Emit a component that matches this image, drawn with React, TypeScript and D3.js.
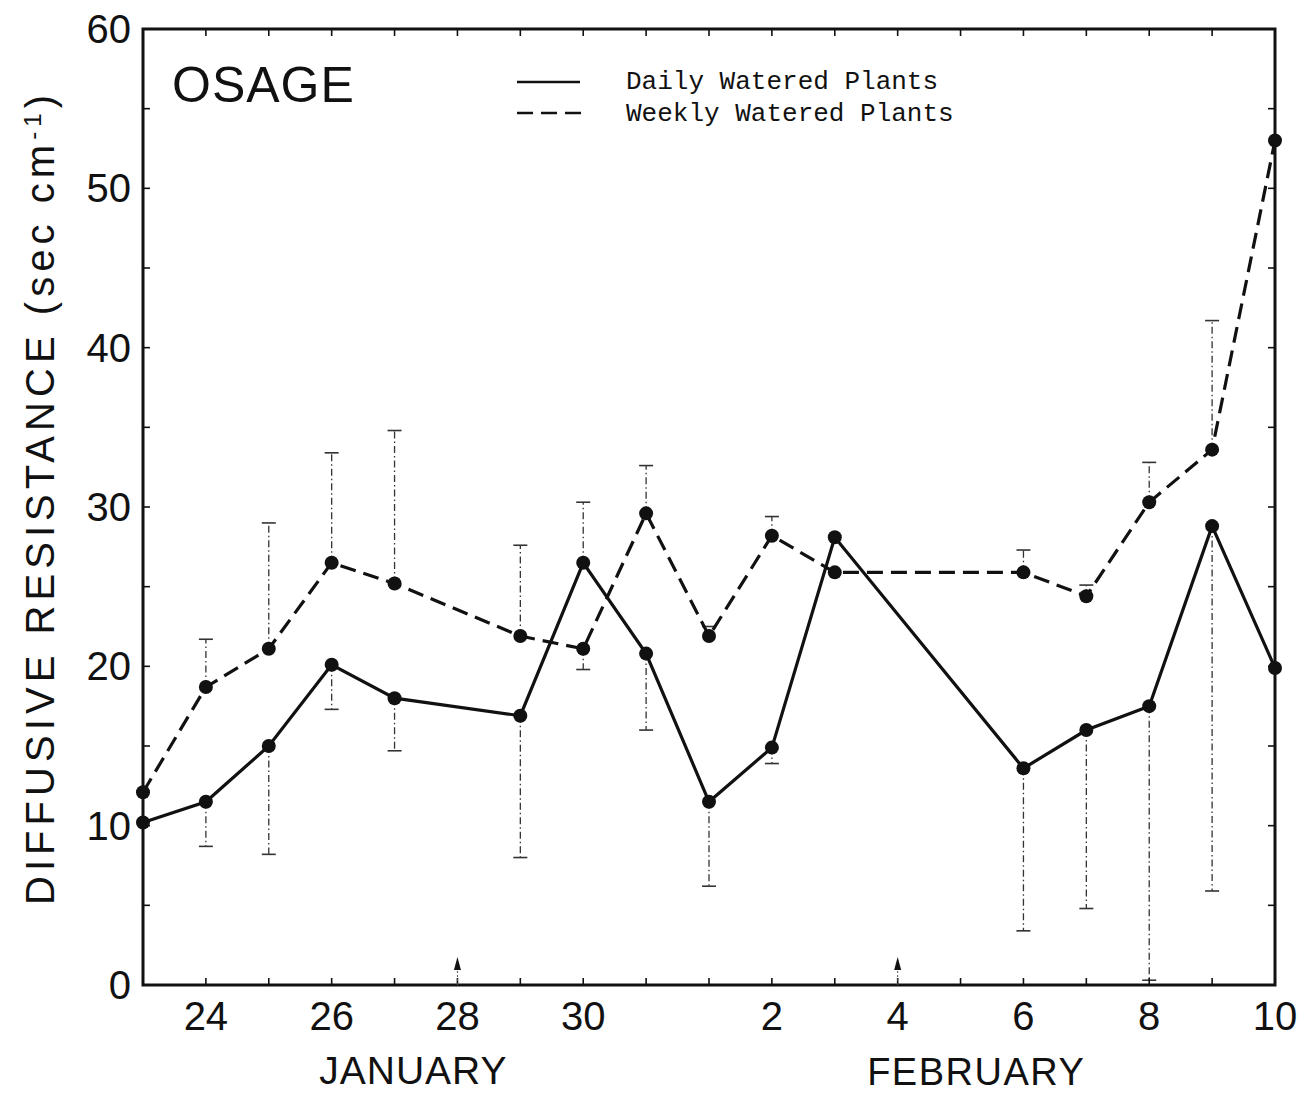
import React from "react";
import * as d3 from "d3";

// days counted from Jan 23 (0) to Feb 10 (18)
const dayIndex = [0, 1, 2, 3, 4, 6, 7, 8, 9, 10, 11, 14, 15, 16, 17, 18];
const dailyWatered = [10.2, 11.5, 15.0, 20.1, 18.0, 16.9, 26.5, 20.8, 11.5, 14.9, 28.1, 13.6, 16.0, 17.5, 28.8, 19.9];
const weeklyWatered = [12.1, 18.7, 21.1, 26.5, 25.2, 21.9, 21.1, 29.6, 21.9, 28.2, 25.9, 25.9, 24.4, 30.3, 33.6, 53.0];
// top of upper bar and bottom of lower bar
const errUpper = [null, 21.7, 29.0, 33.4, 34.8, 27.6, 30.3, 32.6, 22.5, 29.4, null, 27.3, 25.1, 32.8, 41.7, null];
const errLower = [null, 8.7, 8.2, 17.3, 14.7, 8.0, 19.8, 16.0, 6.2, 13.9, null, 3.4, 4.8, 0.3, 5.9, null];

const xTickDays = [1, 3, 5, 7, 10, 12, 14, 16, 18];
const xTickLabels = ["24", "26", "28", "30", "2", "4", "6", "8", "10"];
const arrowDays = [5, 12];
const yTicks = [0, 10, 20, 30, 40, 50, 60];
const monthLabels = ["JANUARY", "FEBRUARY"];

const W = 1302;
const H = 1094;
const left = 143, right = 1275, top = 29, bottom = 985;
const ink = "#111";
const numFont = "'Liberation Sans', Arial, sans-serif";

export default function App() {
  const x = d3.scaleLinear().domain([0, 18]).range([left, right]);
  const y = d3.scaleLinear().domain([0, 60]).range([bottom, top]);

  const line = d3.line<number>()
    .x((_, i) => x(dayIndex[i]))
    .y(d => y(d));

  const allDays = d3.range(0, 19);
  const minorY = d3.range(5, 60, 5);

  const bars: { day: number; from: number; to: number }[] = [];
  dayIndex.forEach((d, i) => {
    const hi = Math.max(dailyWatered[i], weeklyWatered[i]);
    const lo = Math.min(dailyWatered[i], weeklyWatered[i]);
    if (errUpper[i] != null) bars.push({ day: d, from: hi, to: errUpper[i] as number });
    if (errLower[i] != null) bars.push({ day: d, from: lo, to: errLower[i] as number });
  });

  return (
    <div style={{ position: "absolute", left: 0, top: 0 }}>
      <svg width={W} height={H} style={{ display: "block", background: "#fff" }}>
        {/* error bars */}
        <g stroke="#333" strokeWidth={1.3} fill="none">
          {bars.map((b, i) => (
            <g key={i}>
              <line x1={x(b.day)} x2={x(b.day)} y1={y(b.from)} y2={y(b.to)} strokeDasharray="7,3,1.5,3" />
              <line x1={x(b.day) - 7} x2={x(b.day) + 7} y1={y(b.to)} y2={y(b.to)} strokeWidth={1.6} />
            </g>
          ))}
        </g>

        {/* frame */}
        <rect x={left} y={top} width={right - left} height={bottom - top} fill="none" stroke={ink} strokeWidth={3} />

        {/* ticks */}
        <g stroke={ink} strokeWidth={1.6}>
          {allDays.map(d => (
            <g key={"xt" + d}>
              <line x1={x(d)} x2={x(d)} y1={bottom} y2={bottom - 7} />
              <line x1={x(d)} x2={x(d)} y1={top} y2={top + 7} />
            </g>
          ))}
          {minorY.map(v => (
            <g key={"yt" + v}>
              <line x1={left} x2={left + 7} y1={y(v)} y2={y(v)} />
              <line x1={right} x2={right - 7} y1={y(v)} y2={y(v)} />
            </g>
          ))}
        </g>

        {/* arrows */}
        {arrowDays.map(d => (
          <g key={"ar" + d}>
            <line x1={x(d)} x2={x(d)} y1={bottom} y2={bottom - 16} stroke="#555" strokeWidth={1} strokeDasharray="2,2" />
            <path d={`M${x(d)},${bottom - 28} L${x(d) - 3.5},${bottom - 15} L${x(d) + 3.5},${bottom - 15} Z`} fill={ink} />
          </g>
        ))}

        {/* series */}
        <path d={line(dailyWatered) || ""} fill="none" stroke={ink} strokeWidth={3.2} />
        <path d={line(weeklyWatered) || ""} fill="none" stroke={ink} strokeWidth={3.2} strokeDasharray="16,8" />
        {dailyWatered.map((v, i) => (
          <circle key={"d" + i} cx={x(dayIndex[i])} cy={y(v)} r={7} fill={ink} />
        ))}
        {weeklyWatered.map((v, i) => (
          <circle key={"w" + i} cx={x(dayIndex[i])} cy={y(v)} r={7} fill={ink} />
        ))}

        {/* y tick labels */}
        {yTicks.map(v => (
          <text key={"yl" + v} x={131} y={y(v) + 14} textAnchor="end" fontFamily={numFont} fontSize={40} fill={ink}>
            {v}
          </text>
        ))}

        {/* x tick labels */}
        {xTickDays.map((d, i) => (
          <text key={"xl" + d} x={x(d)} y={1030} textAnchor="middle" fontFamily={numFont} fontSize={40} fill={ink}>
            {xTickLabels[i]}
          </text>
        ))}

        {/* month labels */}
        <text x={x(4.3)} y={1084} textAnchor="middle" fontFamily={numFont} fontSize={39} letterSpacing={1} fill={ink}>
          {monthLabels[0]}
        </text>
        <text x={x(13.25)} y={1085} textAnchor="middle" fontFamily={numFont} fontSize={38} letterSpacing={1.5} fill={ink}>
          {monthLabels[1]}
        </text>

        {/* y axis title */}
        <text
          transform="translate(54,500) rotate(-90)"
          textAnchor="middle"
          fontFamily={numFont}
          fontSize={40}
          fill={ink}
          textLength={810}
          lengthAdjust="spacing"
        >
          DIFFUSIVE RESISTANCE (sec cm<tspan baselineShift="super" fontSize={24}>-1</tspan>)
        </text>

        {/* panel title */}
        <text x={172} y={102} fontFamily={numFont} fontSize={50} letterSpacing={1} fill={ink}>
          OSAGE
        </text>

        {/* legend */}
        <line x1={517} x2={580} y1={82} y2={82} stroke={ink} strokeWidth={2.5} />
        <line x1={517} x2={583} y1={113} y2={113} stroke={ink} strokeWidth={2.5} strokeDasharray="16,8" />
        <text x={626} y={89} fontFamily="'Liberation Mono', 'Courier New', monospace" fontSize={26} fill={ink}>
          Daily Watered Plants
        </text>
        <text x={626} y={121} fontFamily="'Liberation Mono', 'Courier New', monospace" fontSize={26} fill={ink}>
          Weekly Watered Plants
        </text>
      </svg>
    </div>
  );
}
